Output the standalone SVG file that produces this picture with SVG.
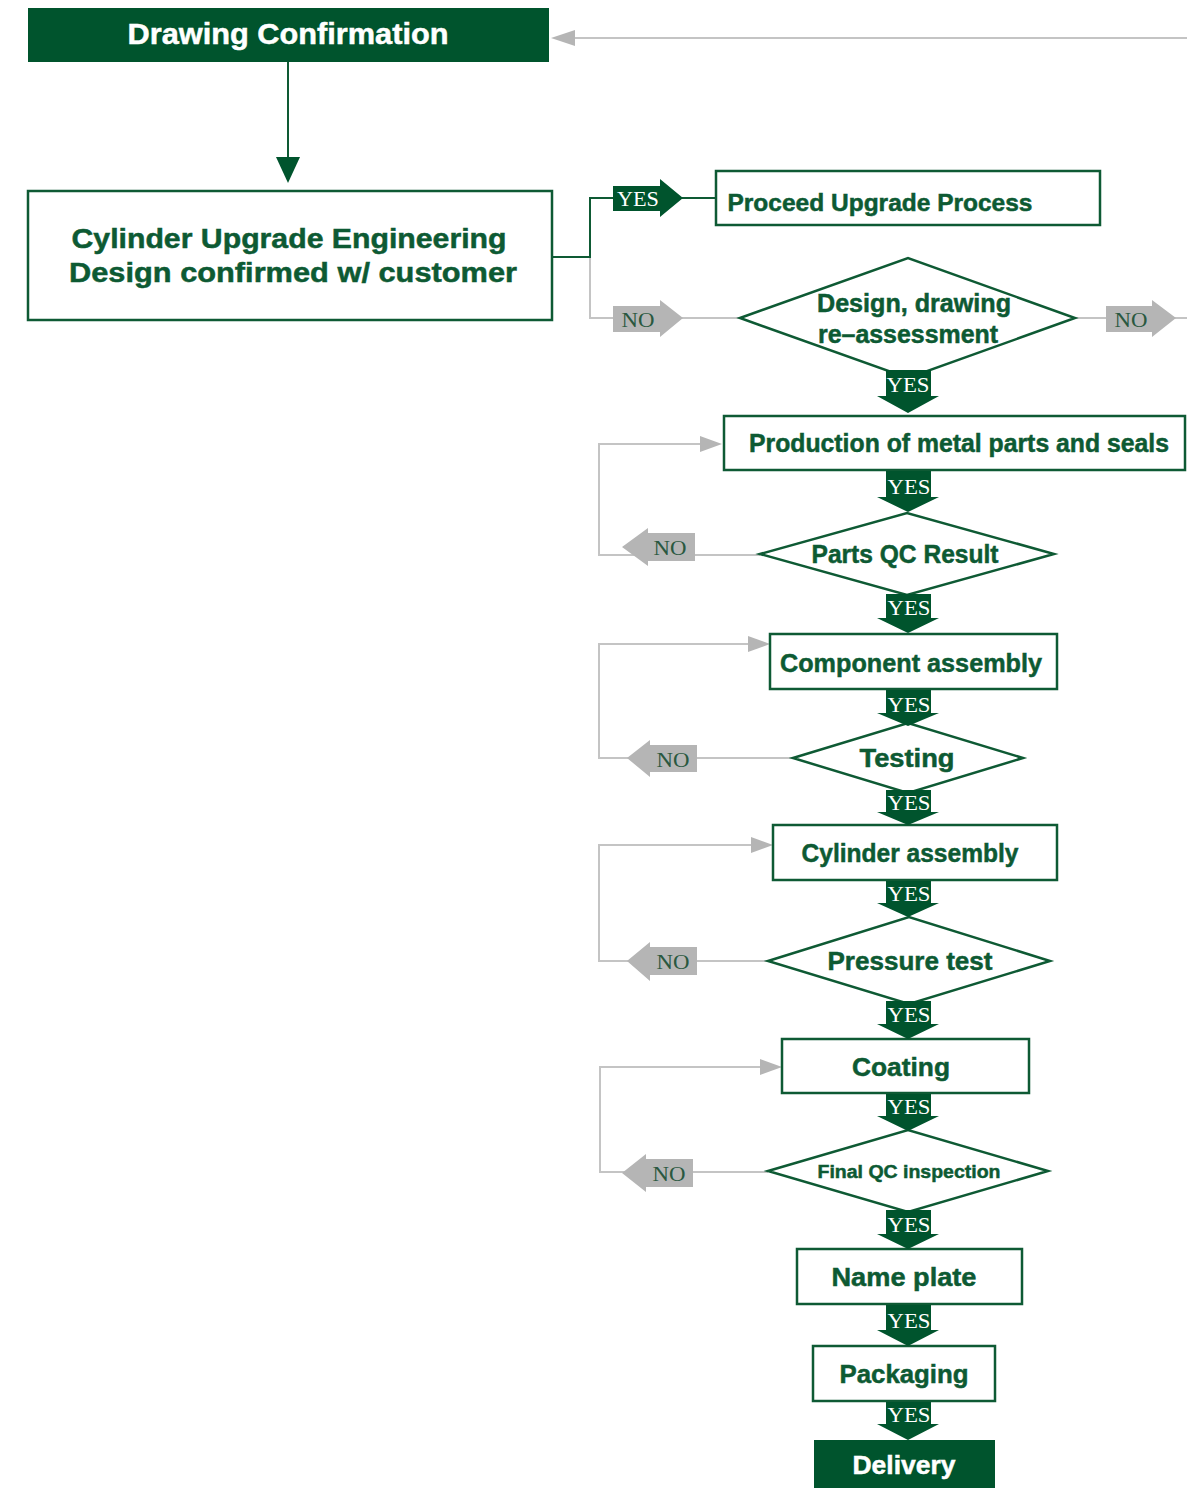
<svg xmlns="http://www.w3.org/2000/svg" width="1187" height="1488" viewBox="0 0 1187 1488">
<style>
.box{fill:#fff;stroke:#0e5a34;stroke-width:2.5}
.dark{fill:#00542d}
.lbl{font-family:"Liberation Sans",Arial,sans-serif;font-weight:bold;fill:#0d5a33;stroke:#0d5a33;stroke-width:0.5;text-anchor:middle}
.w{fill:#fff;stroke:#fff}
.yes{font-family:"Liberation Serif","Times New Roman",serif;font-size:21px;fill:#fff;text-anchor:middle}
.no{font-family:"Liberation Serif","Times New Roman",serif;font-size:21px;fill:#2a5840;text-anchor:middle}
.gl{stroke:#c4c4c4;stroke-width:2;fill:none}
.grl{stroke:#0e5a34;stroke-width:2;fill:none}
.ga{fill:#b5b5b5}
.ya{fill:#00542d}
</style>
<rect width="1187" height="1488" fill="#fff"/>
<g id="connectors">
  <line class="gl" x1="1187" y1="38" x2="572" y2="38"/>
  <polygon class="ga" points="551,38 575,30 575,46"/>
  <line class="grl" x1="288" y1="62" x2="288" y2="160"/>
  <polygon class="ya" points="288,183 276,157 300,157"/>
  <path class="gl" d="M590,257 V318 H740"/>
  <path class="grl" d="M552,257 H590 V198 H716"/>
  <line class="gl" x1="1075" y1="318" x2="1187" y2="318"/>
  <path class="gl" d="M760,555 H599 V444 H702"/>
  <polygon class="ga" points="722,444 700,436 700,452"/>
  <path class="gl" d="M793,758 H599 V644 H750"/>
  <polygon class="ga" points="770,644 748,636 748,652"/>
  <path class="gl" d="M768,961 H599 V845 H753"/>
  <polygon class="ga" points="773,845 751,837 751,853"/>
  <path class="gl" d="M768,1172 H600 V1067 H762"/>
  <polygon class="ga" points="782,1067 760,1059 760,1075"/>
  <g id="yes-right">
    <polygon class="ya" points="613,186 660,186 660,179 683,198 660,217 660,211 613,211"/>
    <text class="yes" x="638" y="206" textLength="42" lengthAdjust="spacingAndGlyphs">YES</text>
  </g>
  <g id="no-right-1">
    <polygon class="ga" points="613,306 660,306 660,300 683,318 660,337 660,332 613,332"/>
    <text class="no" x="638" y="327" textLength="33" lengthAdjust="spacingAndGlyphs">NO</text>
  </g>
  <g id="no-right-2">
    <polygon class="ga" points="1106,306 1152,306 1152,300 1176,318 1152,337 1152,332 1106,332"/>
    <text class="no" x="1131" y="327" textLength="33" lengthAdjust="spacingAndGlyphs">NO</text>
  </g>
  <g id="no-left">
    <polygon class="ga" points="695,533 648,533 648,528 622,547 648,566 648,561 695,561"/>
    <text class="no" x="670" y="555" textLength="33" lengthAdjust="spacingAndGlyphs">NO</text>
    <polygon class="ga" points="697,745 650,745 650,740 627,758 650,777 650,772 697,772"/>
    <text class="no" x="673" y="767" textLength="33" lengthAdjust="spacingAndGlyphs">NO</text>
    <polygon class="ga" points="697,947 650,947 650,942 627,961 650,981 650,975 697,975"/>
    <text class="no" x="673" y="969" textLength="33" lengthAdjust="spacingAndGlyphs">NO</text>
    <polygon class="ga" points="693,1159 646,1159 646,1154 622,1173 646,1192 646,1187 693,1187"/>
    <text class="no" x="669" y="1181" textLength="33" lengthAdjust="spacingAndGlyphs">NO</text>
  </g>
</g>
<g id="drawing-confirmation">
  <rect class="dark" x="28" y="8" width="521" height="54"/>
  <text class="lbl w" x="288" y="44" font-size="30" textLength="321" lengthAdjust="spacingAndGlyphs">Drawing Confirmation</text>
</g>
<g id="cylinder-upgrade">
  <rect class="box" x="28" y="191" width="524" height="129"/>
  <text class="lbl" x="289" y="248" font-size="28" textLength="435" lengthAdjust="spacingAndGlyphs">Cylinder Upgrade Engineering</text>
  <text class="lbl" x="293" y="282" font-size="28" textLength="448" lengthAdjust="spacingAndGlyphs">Design confirmed w/ customer</text>
</g>
<g id="proceed">
  <rect class="box" x="716" y="171" width="384" height="54"/>
  <text class="lbl" x="880" y="211" font-size="24" textLength="305" lengthAdjust="spacingAndGlyphs">Proceed Upgrade Process</text>
</g>
<g id="reassessment">
  <polygon class="box" points="740,318 908,258 1075,318 908,378"/>
  <text class="lbl" x="914" y="312" font-size="25" textLength="194" lengthAdjust="spacingAndGlyphs">Design, drawing</text>
  <text class="lbl" x="908" y="343" font-size="25" textLength="180" lengthAdjust="spacingAndGlyphs">re–assessment</text>
</g>
<g id="production">
  <rect class="box" x="724" y="416" width="461" height="54"/>
  <text class="lbl" x="959" y="452" font-size="26" textLength="420" lengthAdjust="spacingAndGlyphs">Production of metal parts and seals</text>
</g>
<g id="parts-qc">
  <polygon class="box" points="760,554 907,513 1054,554 907,595"/>
  <text class="lbl" x="905" y="563" font-size="26" textLength="187" lengthAdjust="spacingAndGlyphs">Parts QC Result</text>
</g>
<g id="component">
  <rect class="box" x="770" y="634" width="287" height="55"/>
  <text class="lbl" x="911" y="672" font-size="26" textLength="262" lengthAdjust="spacingAndGlyphs">Component assembly</text>
</g>
<g id="testing">
  <polygon class="box" points="793,758 908,723 1023,758 908,793"/>
  <text class="lbl" x="907" y="767" font-size="26" textLength="95" lengthAdjust="spacingAndGlyphs">Testing</text>
</g>
<g id="cylinder-assembly">
  <rect class="box" x="773" y="825" width="284" height="55"/>
  <text class="lbl" x="910" y="862" font-size="26" textLength="217" lengthAdjust="spacingAndGlyphs">Cylinder assembly</text>
</g>
<g id="pressure">
  <polygon class="box" points="768,961 909,917 1050,961 909,1004"/>
  <text class="lbl" x="910" y="970" font-size="26" textLength="165" lengthAdjust="spacingAndGlyphs">Pressure test</text>
</g>
<g id="coating">
  <rect class="box" x="782" y="1039" width="247" height="54"/>
  <text class="lbl" x="901" y="1076" font-size="26" textLength="98" lengthAdjust="spacingAndGlyphs">Coating</text>
</g>
<g id="final-qc">
  <polygon class="box" points="768,1171 908,1130 1048,1171 908,1212"/>
  <text class="lbl" x="909" y="1178" font-size="19" textLength="183" lengthAdjust="spacingAndGlyphs">Final QC inspection</text>
</g>
<g id="name-plate">
  <rect class="box" x="797" y="1249" width="225" height="55"/>
  <text class="lbl" x="904" y="1286" font-size="26" textLength="145" lengthAdjust="spacingAndGlyphs">Name plate</text>
</g>
<g id="packaging">
  <rect class="box" x="813" y="1346" width="182" height="55"/>
  <text class="lbl" x="904" y="1383" font-size="26" textLength="129" lengthAdjust="spacingAndGlyphs">Packaging</text>
</g>
<g id="delivery">
  <rect class="dark" x="814" y="1440" width="181" height="48"/>
  <text class="lbl w" x="904" y="1474" font-size="26" textLength="103" lengthAdjust="spacingAndGlyphs">Delivery</text>
</g>
<g id="yes-down">
  <polygon class="ya" points="886,370 931,370 931,396 939,396 908,413 877,396 886,396"/>
  <text class="yes" x="908" y="392" textLength="43" lengthAdjust="spacingAndGlyphs">YES</text>
  <polygon class="ya" points="886,471 931,471 931,497 939,497 908,512 877,497 886,497"/>
  <text class="yes" x="909" y="494" textLength="43" lengthAdjust="spacingAndGlyphs">YES</text>
  <polygon class="ya" points="886,594 931,594 931,618 939,618 908,633 877,618 886,618"/>
  <text class="yes" x="909" y="615" textLength="43" lengthAdjust="spacingAndGlyphs">YES</text>
  <polygon class="ya" points="886,690 931,690 931,713 939,713 908,726 877,713 886,713"/>
  <text class="yes" x="909" y="712" textLength="43" lengthAdjust="spacingAndGlyphs">YES</text>
  <polygon class="ya" points="886,790 931,790 931,812 939,812 908,825 877,812 886,812"/>
  <text class="yes" x="909" y="810" textLength="43" lengthAdjust="spacingAndGlyphs">YES</text>
  <polygon class="ya" points="886,881 931,881 931,903 939,903 908,917 877,903 886,903"/>
  <text class="yes" x="909" y="901" textLength="43" lengthAdjust="spacingAndGlyphs">YES</text>
  <polygon class="ya" points="886,1001 931,1001 931,1024 939,1024 908,1039 877,1024 886,1024"/>
  <text class="yes" x="909" y="1022" textLength="43" lengthAdjust="spacingAndGlyphs">YES</text>
  <polygon class="ya" points="886,1094 931,1094 931,1116 939,1116 908,1131 877,1116 886,1116"/>
  <text class="yes" x="909" y="1114" textLength="43" lengthAdjust="spacingAndGlyphs">YES</text>
  <polygon class="ya" points="886,1210 931,1210 931,1234 939,1234 908,1249 877,1234 886,1234"/>
  <text class="yes" x="909" y="1232" textLength="43" lengthAdjust="spacingAndGlyphs">YES</text>
  <polygon class="ya" points="886,1305 931,1305 931,1330 939,1330 908,1346 877,1330 886,1330"/>
  <text class="yes" x="909" y="1328" textLength="43" lengthAdjust="spacingAndGlyphs">YES</text>
  <polygon class="ya" points="886,1402 931,1402 931,1424 939,1424 908,1440 877,1424 886,1424"/>
  <text class="yes" x="909" y="1422" textLength="43" lengthAdjust="spacingAndGlyphs">YES</text>
</g>
</svg>
